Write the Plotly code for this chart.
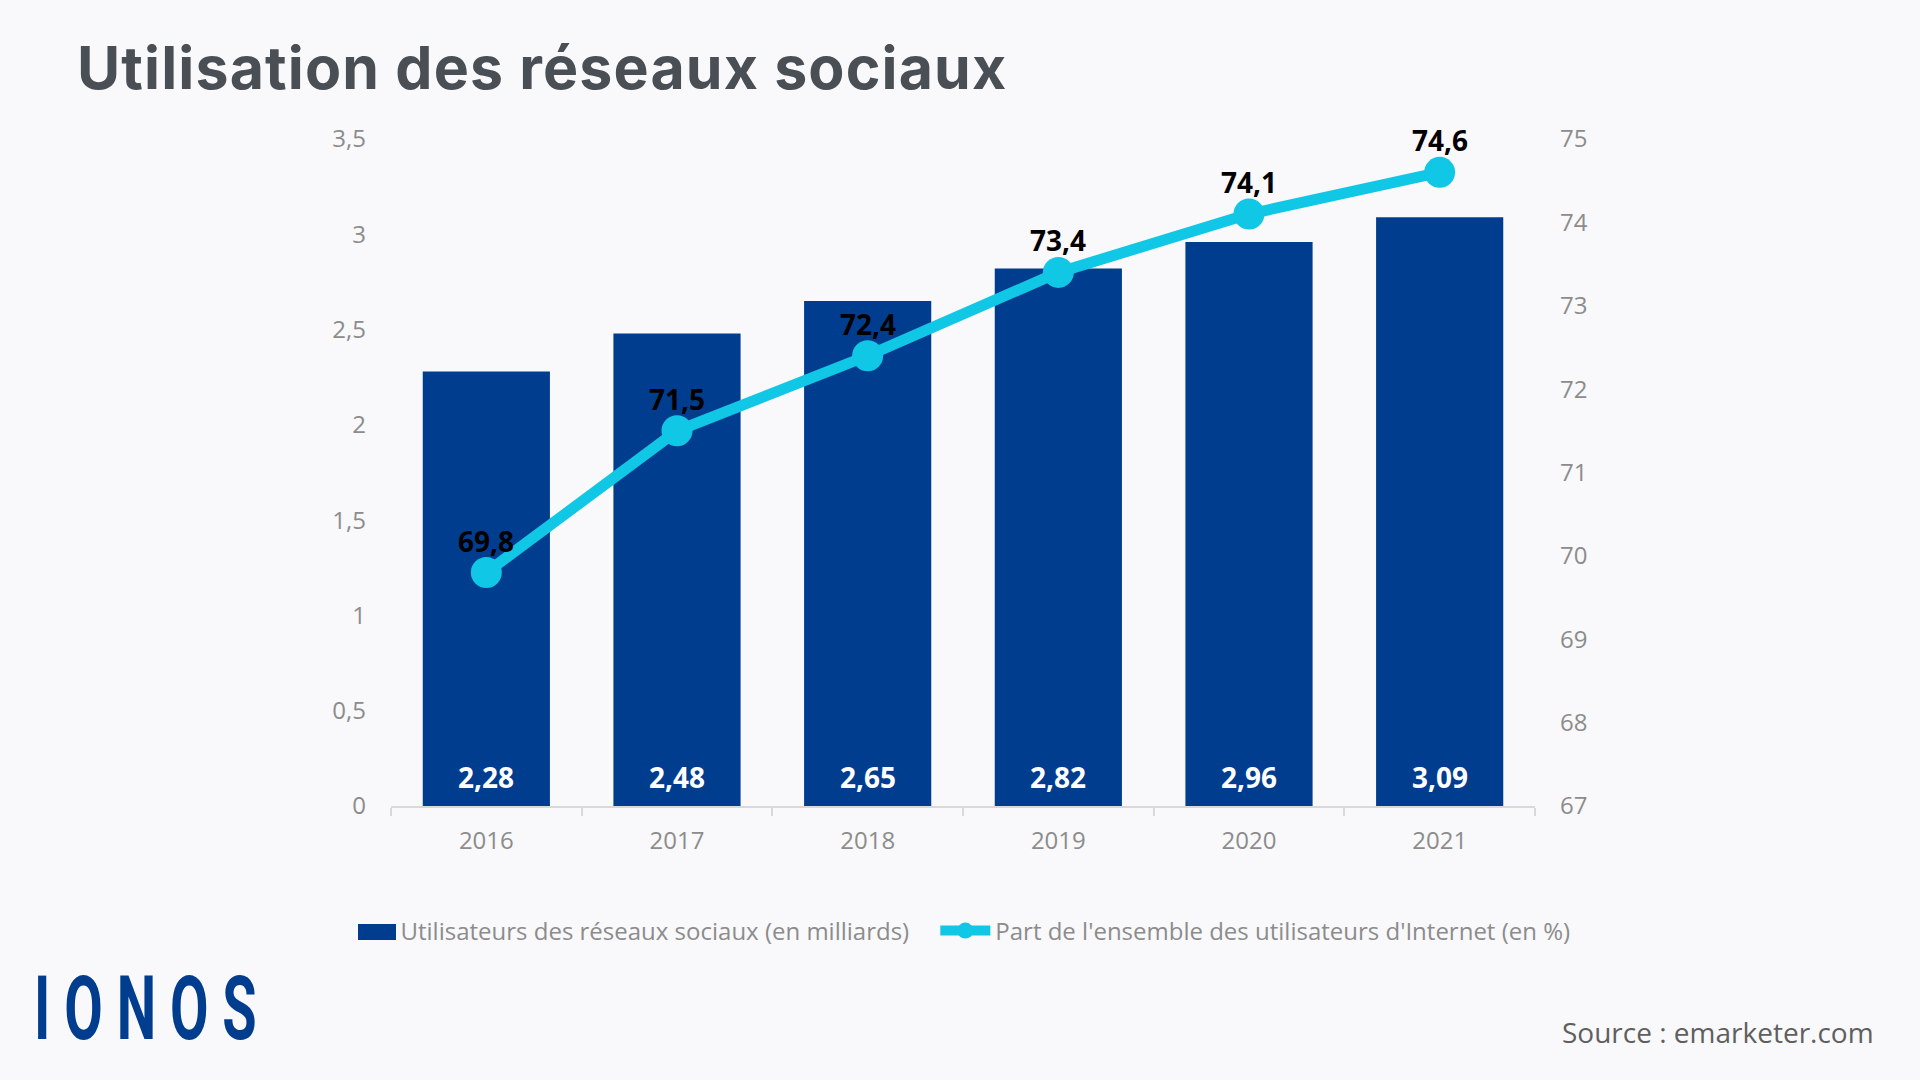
#!/usr/bin/env python3
import plotly.graph_objects as pgo

years = ["2016", "2017", "2018", "2019", "2020", "2021"]
users = [2.28, 2.48, 2.65, 2.82, 2.96, 3.09]
users_text = ["2,28", "2,48", "2,65", "2,82", "2,96", "3,09"]
share = [69.8, 71.5, 72.4, 73.4, 74.1, 74.6]
share_text = ["69,8", "71,5", "72,4", "73,4", "74,1", "74,6"]

BLUE = "#003d8f"
CYAN = "#11c7e6"
GREY = "#8c8c8c"
BG = "#f9f9fb"
W, H = 1920, 1080
# plot area in page pixels
L, R, T, B = 391, 1535, 139, 806


# page pixels -> paper fractions (paper is the plot area here)
def px(x):
    return (x - L) / (R - L)


def py(y):
    return (B - y) / (B - T)


fig = pgo.Figure()
fig.add_trace(pgo.Bar(
    x=years, y=users, name="Utilisateurs des réseaux sociaux (en milliards)\u00a0\u00a0\u00a0\u200a",
    marker=dict(color=BLUE, line=dict(width=0)),
))
fig.add_trace(pgo.Scatter(
    x=years, y=share, name="Part de l'ensemble des utilisateurs d'Internet (en %)",
    yaxis="y2", mode="lines+markers",
    line=dict(color=CYAN, width=11),
    marker=dict(color=CYAN, size=31),
))

fig.update_layout(
    width=W, height=H,
    margin=dict(l=L, r=W - R, t=T, b=H - B, pad=0),
    paper_bgcolor=BG, plot_bgcolor=BG,
    separators=", ",
    font=dict(family="Open Sans", size=24, color=GREY),
    bargap=0.333,
    xaxis=dict(
        type="category", showgrid=False,
        showline=True, linecolor="#d9d9d9", linewidth=1.5,
        ticks="outside", tickson="boundaries", ticklen=8, tickcolor="#d9d9d9", tickwidth=1.5,
        ticklabelstandoff=12,
    ),
    yaxis=dict(
        range=[0, 3.5], dtick=0.5,
        showgrid=False, zeroline=False, ticks="", ticklabelstandoff=24,
    ),
    yaxis2=dict(
        overlaying="y", side="right", range=[67, 75], dtick=1,
        showgrid=False, zeroline=False, ticks="", ticklabelstandoff=24,
    ),
    legend=dict(
        orientation="h", x=px(1575.5), y=py(931), xanchor="right", yanchor="middle",
        bgcolor="rgba(0,0,0,0)", itemwidth=50, font=dict(size=24, color=GREY),
    ),
    title=dict(
        text="<b>Utilisation des réseaux sociaux</b>", x=77 / W, xanchor="left",
        y=1 - 68 / H, yanchor="middle",
        font=dict(family="Inter", size=59, color="#4a4f55"),
    ),
)

# value labels as annotations, plotly's own text offsets sit too far from the marks
# (annotations on a category axis take the category index, not its name)
for i, label in enumerate(users_text):
    fig.add_annotation(
        x=i, y=0, text=label, yanchor="bottom", yshift=8, showarrow=False,
        font=dict(family="Open Sans", size=28, color="white", weight="bold"),
    )
for i, (value, label) in enumerate(zip(share, share_text)):
    fig.add_annotation(
        x=i, y=value, yref="y2", text=label, yanchor="middle", yshift=32, showarrow=False,
        font=dict(family="Open Sans", size=28, color="black", weight="bold"),
    )

# the native bar swatch is a small square, the reference has a wide one
fig.add_shape(type="rect", xref="paper", yref="paper", layer="above",
              x0=px(358), x1=px(396), y0=py(924), y1=py(940),
              fillcolor=BLUE, line_width=0)
fig.add_annotation(
    text="Source : emarketer.com", xref="paper", yref="paper",
    x=px(1876), y=py(1032), xanchor="right", yanchor="middle", showarrow=False,
    font=dict(family="Open Sans", size=28, color="#5f5f5f"),
)
fig.add_annotation(
    text="<b>I\u00a0O\u00a0N\u00a0O\u00a0S</b>", xref="paper", yref="paper",
    x=px(32), y=py(1008), xanchor="left", yanchor="middle", showarrow=False,
    font=dict(family="Roboto", size=88, color=BLUE),
)

# page margin off, title tracking, and the logo wordmark squeezed to its condensed shape
post = """
document.documentElement.style.background = '%s';
document.body.style.margin = '0';
document.querySelector('.gtitle').style.letterSpacing = '1.15px';
document.querySelectorAll('.annotation-text').forEach(function (el) {
  if (el.textContent.charAt(0) === 'I') {
    el.style.transformBox = 'fill-box';
    el.style.transformOrigin = 'left center';
    el.style.transform = 'scaleX(0.635)';
  }
});
""" % BG

fig.write_html("out.html", post_script=post, config=dict(displayModeBar=False))
